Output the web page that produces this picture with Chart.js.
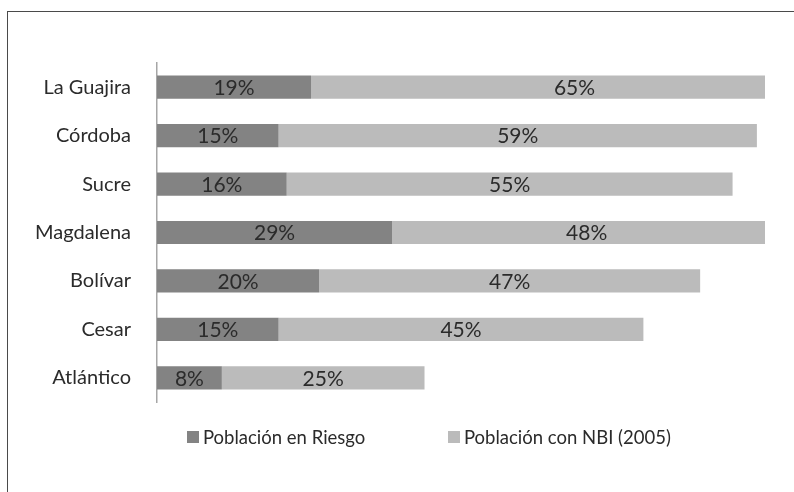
<!DOCTYPE html>
<html>
<head>
<meta charset="utf-8">
<script src="https://cdn.jsdelivr.net/npm/chart.js@4.4.0/dist/chart.umd.min.js"></script>
<style>
  html, body { margin: 0; padding: 0; background: #fff; overflow: hidden; }
  #frame { position: absolute; left: 7px; top: 11px; width: 900px; height: 600px; border: 1px solid #4a4a4a; }
  #wrap { position: absolute; left: 0; top: 0; width: 794px; height: 492px; }
</style>
</head>
<body>
<div id="frame"></div>
<div id="wrap"><canvas id="chart"></canvas></div>
<script>
const departamentos = ['La Guajira', 'Córdoba', 'Sucre', 'Magdalena', 'Bolívar', 'Cesar', 'Atlántico'];
const poblacionRiesgo = [19, 15, 16, 29, 20, 15, 8];
const poblacionNBI = [65, 59, 55, 48, 47, 45, 25];
const serieNombres = ['Población en Riesgo', 'Población con NBI (2005)'];
const serieColores = ['#838383', '#bbbbbb'];

const FONT = 'Lato, "Noto Sans", sans-serif';

// etiquetas de porcentaje centradas en cada segmento
const etiquetas = {
    id: 'etiquetas',
    afterDatasetsDraw(chart) {
        const ctx = chart.ctx;
        ctx.save();
        ctx.font = '21px ' + FONT;
        ctx.fillStyle = '#2b2b2b';
        ctx.textAlign = 'center';
        ctx.textBaseline = 'middle';
        chart.data.datasets.forEach((ds, i) => {
            chart.getDatasetMeta(i).data.forEach((bar, j) => {
                const cx = (bar.x + bar.base) / 2;
                ctx.fillText(ds.data[j] + '%', cx, bar.y + 1);
            });
        });
        ctx.restore();
    }
};

// leyenda inferior
const leyenda = {
    id: 'leyenda',
    afterDraw(chart) {
        const ctx = chart.ctx;
        const xs = [187, 448];
        const y = 437;
        ctx.save();
        ctx.font = '18.5px ' + FONT;
        ctx.textBaseline = 'middle';
        chart.data.datasets.forEach((ds, i) => {
            ctx.fillStyle = ds.backgroundColor;
            ctx.fillRect(xs[i], y - 6, 12, 12);
            ctx.fillStyle = '#2b2b2b';
            ctx.fillText(ds.label, xs[i] + 16, y + 1);
        });
        ctx.restore();
    }
};

new Chart(document.getElementById('chart').getContext('2d'), {
    type: 'bar',
    data: {
        labels: departamentos,
        datasets: [
            { label: serieNombres[0], data: poblacionRiesgo, backgroundColor: serieColores[0] },
            { label: serieNombres[1], data: poblacionNBI, backgroundColor: serieColores[1] }
        ]
    },
    options: {
        indexAxis: 'y',
        responsive: true,
        maintainAspectRatio: false,
        animation: false,
        categoryPercentage: 1,
        barPercentage: 0.48,
        layout: { padding: { left: 0, right: 29, top: 63, bottom: 90 } },
        plugins: {
            legend: { display: false },
            tooltip: { enabled: false }
        },
        scales: {
            x: { stacked: true, min: 0, max: 75, display: false },
            y: {
                stacked: true,
                grid: { display: false },
                border: { display: true, color: '#a6a6a6', width: 1.5 },
                ticks: { font: { family: FONT, size: 20 }, color: '#2b2b2b', padding: 18 },
                afterFit(scale) { scale.width = 157; }
            }
        }
    },
    plugins: [etiquetas, leyenda]
});
</script>
</body>
</html>
